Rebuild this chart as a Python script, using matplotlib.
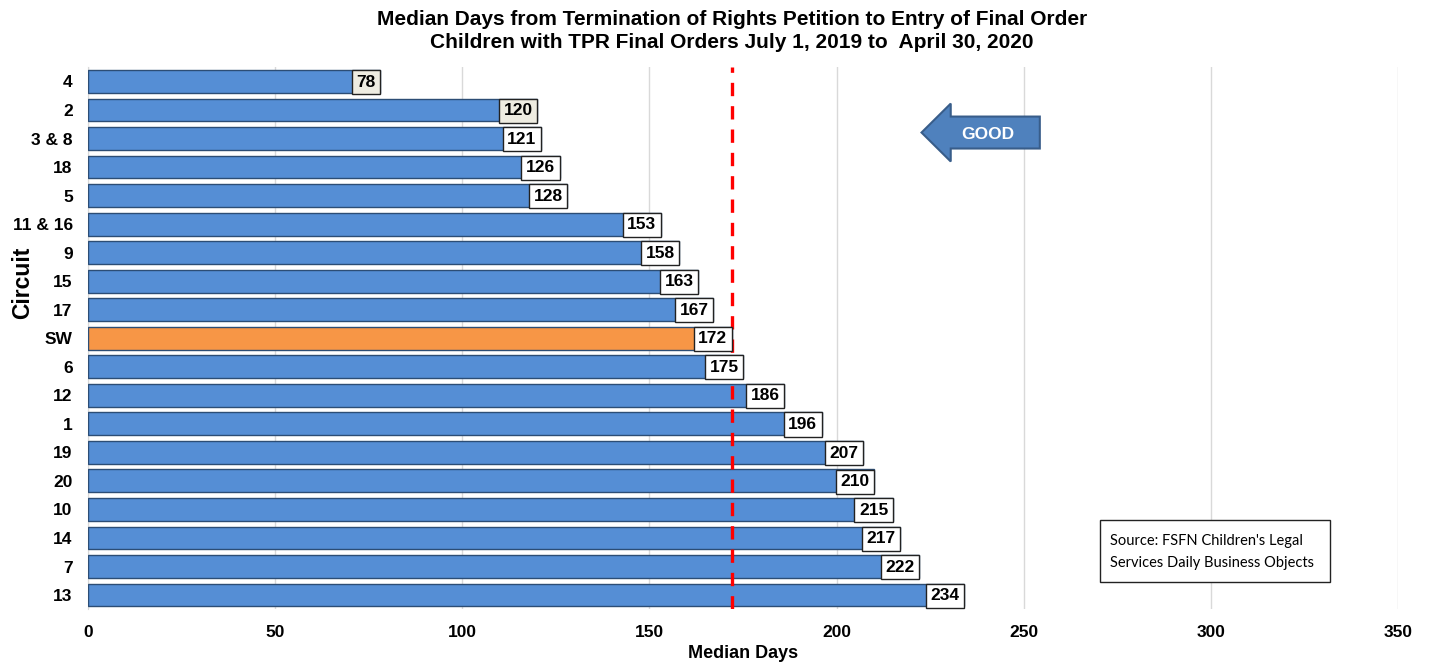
import matplotlib.pyplot as plt
from matplotlib.patches import FancyArrow, Rectangle

circuits = ['4', '2', '3 & 8', '18', '5', '11 & 16', '9', '15', '17', 'SW',
            '6', '12', '1', '19', '20', '10', '14', '7', '13']
median_days = [78, 120, 121, 126, 128, 153, 158, 163, 167, 172,
               175, 186, 196, 207, 210, 215, 217, 222, 234]
statewide = 172

plt.rcParams['font.family'] = ['Liberation Sans', 'DejaVu Sans']

fig = plt.figure(figsize=(14.29, 6.64), dpi=100)
ax = fig.add_axes([88 / 1429, 1 - 609.3 / 664, 1310 / 1429, (609.3 - 67.2) / 664])

y = list(range(len(circuits)))
colors = ['#f79646' if c == 'SW' else '#558ed5' for c in circuits]
ax.barh(y, median_days, height=0.8, color=colors, edgecolor='#2c4d75',
        linewidth=1.0, zorder=3)

for i, (c, v) in enumerate(zip(circuits, median_days)):
    face = '#eeece1' if v in (78, 120) else 'white'
    ax.text(v - 1.2, i - 0.03, str(v), ha='right', va='center_baseline',
            fontsize=12.5, fontweight='bold', zorder=5,
            bbox=dict(boxstyle='square,pad=0.26', facecolor=face,
                      edgecolor='#222222', linewidth=1.0))

ax.axvline(statewide, color='#ff0000', linestyle=(0, (4, 3)), linewidth=2.4,
           zorder=4)

ax.set_xlim(0, 350)
ax.set_ylim(len(circuits) - 0.5, -0.5)
ax.set_xticks(range(0, 351, 50))
ax.set_yticks(y)
ax.set_yticklabels(circuits)
for lbl in ax.get_xticklabels() + ax.get_yticklabels():
    lbl.set_fontweight('bold')
    lbl.set_fontsize(12.5)
ax.tick_params(axis='both', length=0)
ax.tick_params(axis='x', pad=11)
ax.tick_params(axis='y', pad=11)
ax.grid(axis='x', color='#d9d9d9', linewidth=1.0, zorder=0)
for side in ['top', 'right', 'bottom']:
    ax.spines[side].set_visible(False)
ax.spines['left'].set_color('#d9d9d9')

ax.set_xlabel('Median Days', fontsize=13, fontweight='bold', labelpad=4)
ax.set_ylabel('Circuit', fontsize=16.5, fontweight='bold')
ax.yaxis.set_label_coords(-0.041, 0.602)

# "GOOD" direction arrow
arrow = FancyArrow(254.3, 1.79, -31.6, 0, width=1.12, head_width=2.03,
                   head_length=7.8, length_includes_head=True,
                   facecolor='#4f81bd', edgecolor='#385d8a', linewidth=1.5,
                   zorder=6)
ax.add_patch(arrow)
ax.text(240.5, 1.79, 'GOOD', ha='center', va='center_baseline', color='white',
        fontsize=12.5, fontweight='bold', zorder=7)

fig.text(0.512, 0.985, 'Median Days from Termination of Rights Petition to Entry of Final Order\n'
         'Children with TPR Final Orders July 1, 2019 to  April 30, 2020',
         ha='center', va='top', fontsize=15, fontweight='bold',
         family=['Liberation Sans Narrow', 'Liberation Sans'], linespacing=1.3)

# source note box
fig.add_artist(Rectangle((1100 / 1429, 1 - 582 / 664), 230 / 1429, 62 / 664,
                         transform=fig.transFigure, facecolor='white',
                         edgecolor='#222222', linewidth=1.0))
fig.text(1110 / 1429, 1 - 541 / 664, "Source: FSFN Children's Legal",
         ha='left', va='center', fontsize=10.5, family=['Lato', 'DejaVu Sans'])
fig.text(1110 / 1429, 1 - 563 / 664, 'Services Daily Business Objects',
         ha='left', va='center', fontsize=10.5, family=['Lato', 'DejaVu Sans'])

fig.savefig('out.png', dpi=100)
